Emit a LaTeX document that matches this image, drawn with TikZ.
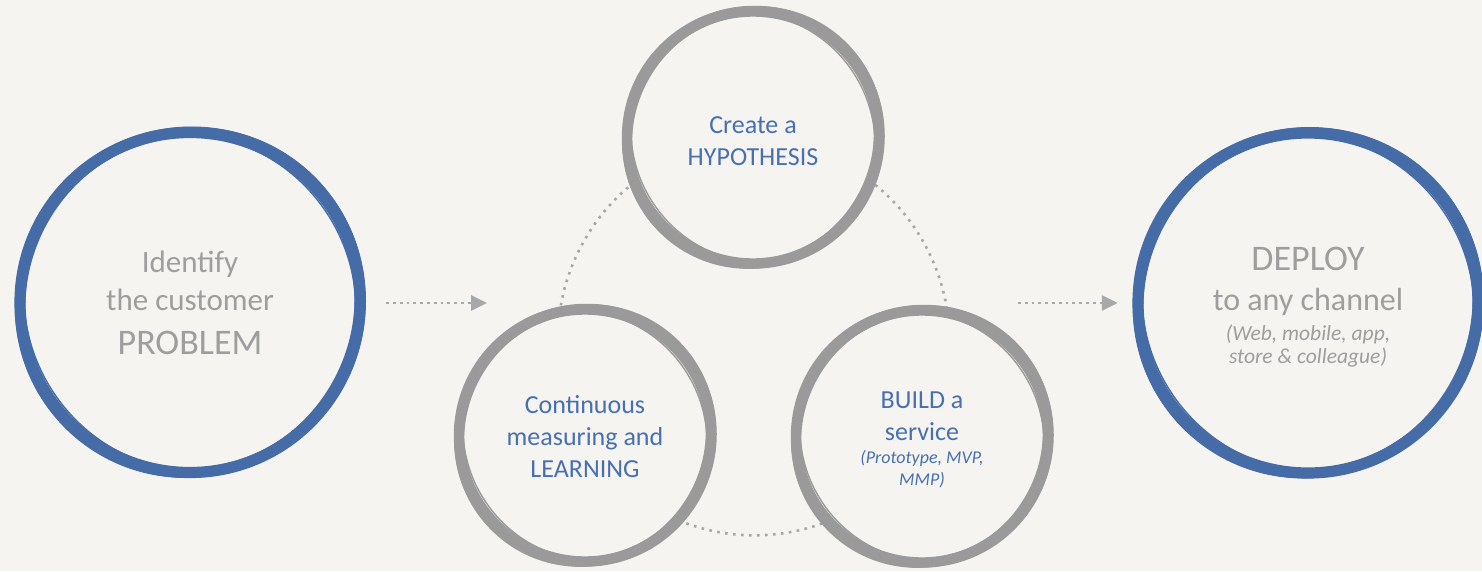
\documentclass[tikz,border=0pt]{standalone}
\usepackage{fontspec}
\setmainfont{Carlito}
\usetikzlibrary{arrows.meta,backgrounds}

\definecolor{pagebg}{RGB}{245,244,241}
\definecolor{ringblue}{RGB}{70,108,168}
\definecolor{ringgray}{RGB}{154,154,154}
\definecolor{textblue}{RGB}{72,112,176}
\definecolor{textgray}{RGB}{158,158,158}
\definecolor{dotgray}{RGB}{168,168,168}

% hand drawn ring round a node: node, radius, colour, stroke width, lift
\newcommand{\sketchring}[5]{%
  \begin{scope}[shift={([yshift=#5pt]#1.center)}, #3]
    \draw[line width=#4pt*0.8] (0,0) circle [radius=#2pt];
    \draw[line width=#4pt*0.55] (0,0) circle [x radius=#2pt+3pt, y radius=#2pt-2pt, rotate=35];
    \draw[line width=#4pt*0.55] (0,0) circle [x radius=#2pt-3pt, y radius=#2pt+2.5pt, rotate=-30];
    \draw[line width=#4pt*0.5] (1.5,-1.5) circle [radius=#2pt+1pt];
    \draw[line width=1.4pt] (0,0) circle [x radius=#2pt+6.5pt, y radius=#2pt+2pt, rotate=50];
    \draw[line width=1.4pt] (0,0) circle [x radius=#2pt+1pt, y radius=#2pt-6.5pt, rotate=-55];
  \end{scope}
}

\begin{document}
\begin{tikzpicture}[x=1pt, y=-1pt,
  stage/.style={circle, fill=pagebg, minimum size=#1, inner sep=0pt, align=center},
  flow/.style={dotgray, line width=2.8pt, dash pattern=on 2.8pt off 4pt,
    -{Triangle[length=16pt, width=15pt]}},
  loop/.style={dotgray, line width=2.6pt, dash pattern=on 2.6pt off 5.4pt}]

\useasboundingbox (0,0) rectangle (1482,571);

% outer steps
\node[stage=340pt, text=textgray, font=\fontsize{31}{38}\selectfont] (problem) at (190,303)
  {Identify\\the customer\\[6pt]\fontsize{36}{38}\selectfont PROBLEM};
\node[stage=340pt, text=textgray, font=\fontsize{32}{40}\selectfont] (deploy) at (1308,307)
  {\fontsize{36}{40}\selectfont DEPLOY\\to any channel\\[-10pt]
   \itshape\fontsize{21.5}{24}\selectfont (Web, mobile, app,\\[-17pt]
   \itshape\fontsize{21.5}{24}\selectfont store \& colleague)};

% the loop
\node[stage=252pt, text=textblue, font=\fontsize{26}{32}\selectfont] (hypothesis) at (753,141)
  {Create a\\HYPOTHESIS};
\node[stage=252pt, text=textblue, font=\fontsize{26}{32}\selectfont] (learning) at (585,437)
  {Continuous\\measuring and\\LEARNING};
\node[stage=252pt, text=textblue, font=\fontsize{26}{32}\selectfont] (build) at (922,440)
  {BUILD a\\service\\[-9pt]
   \itshape\fontsize{18}{22}\selectfont (Prototype, MVP,\\[-10pt]
   \itshape\fontsize{18}{22}\selectfont MMP)};

\sketchring{problem}{170}{ringblue}{14}{0.5}
\sketchring{deploy}{170}{ringblue}{14}{4}
\sketchring{hypothesis}{126}{ringgray}{13}{3.5}
\sketchring{learning}{126}{ringgray}{13}{1.5}
\sketchring{build}{126}{ringgray}{13}{3.5}

\coordinate (cyclein) at (487,303);
\coordinate (cycleout) at (1018,303);
\draw[flow, shorten <=26pt] (problem.east) -- (cyclein);
\draw[flow, shorten >=20pt] (cycleout) -- (deploy.west |- cycleout);

\begin{scope}[on background layer]
  \fill[pagebg] (0,0) rectangle (1482,571);
  \draw[loop] (hypothesis.center) to[bend right=60, looseness=1.13] (learning.center);
  \draw[loop] (learning.center) to[bend right=60, looseness=1.13] (build.center);
  \draw[loop] (build.center) to[bend right=60, looseness=1.13] (hypothesis.center);
\end{scope}
\end{tikzpicture}
\end{document}
